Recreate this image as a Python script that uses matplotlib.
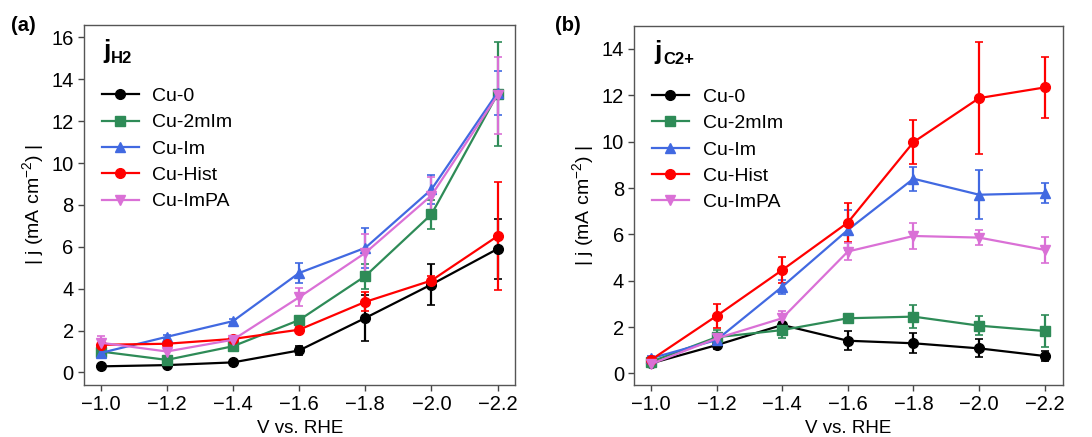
import matplotlib.pyplot as plt

plt.rcParams['font.family'] = ['Liberation Sans', 'DejaVu Sans']
plt.rcParams['mathtext.fontset'] = 'custom'
plt.rcParams['mathtext.rm'] = 'Liberation Sans'

# potentials (V vs. RHE)
potential = [-1.0, -1.2, -1.4, -1.6, -1.8, -2.0, -2.2]
labels = ['Cu-0', 'Cu-2mIm', 'Cu-Im', 'Cu-Hist', 'Cu-ImPA']

# j_H2 (mA cm-2)
h2_cu0 = [0.29, 0.35, 0.48, 1.05, 2.60, 4.20, 5.90]
h2_cu0_err = [0.08, 0.08, 0.08, 0.20, 1.10, 1.00, 1.43]
h2_2mim = [1.00, 0.60, 1.25, 2.50, 4.60, 7.55, 13.30]
h2_2mim_err = [0.15, 0.15, 0.15, 0.20, 0.60, 0.70, 2.50]
h2_im = [0.93, 1.70, 2.45, 4.75, 5.95, 8.74, 13.37]
h2_im_err = [0.10, 0.10, 0.10, 0.50, 0.95, 0.70, 1.05]
h2_hist = [1.32, 1.37, 1.60, 2.04, 3.37, 4.39, 6.51]
h2_hist_err = [0.10, 0.10, 0.10, 0.15, 0.45, 0.20, 2.57]
h2_impa = [1.42, 1.00, 1.56, 3.59, 5.71, 8.45, 13.24]
h2_impa_err = [0.30, 0.20, 0.10, 0.42, 0.90, 0.90, 1.83]

# j_C2+ (mA cm-2)
c2_cu0 = [0.43, 1.22, 2.09, 1.41, 1.30, 1.08, 0.75]
c2_cu0_err = [0.15, 0.15, 0.10, 0.42, 0.43, 0.39, 0.20]
c2_2mim = [0.50, 1.56, 1.87, 2.38, 2.45, 2.06, 1.83]
c2_2mim_err = [0.10, 0.30, 0.35, 0.10, 0.50, 0.40, 0.69]
c2_im = [0.65, 1.44, 3.74, 6.19, 8.40, 7.71, 7.78]
c2_im_err = [0.10, 0.15, 0.30, 0.85, 0.52, 1.05, 0.43]
c2_hist = [0.58, 2.48, 4.46, 6.51, 9.98, 11.88, 12.34]
c2_hist_err = [0.10, 0.52, 0.58, 0.86, 0.94, 2.42, 1.33]
c2_impa = [0.40, 1.51, 2.38, 5.26, 5.93, 5.86, 5.33]
c2_impa_err = [0.10, 0.15, 0.33, 0.35, 0.55, 0.33, 0.55]

colors = ['black', 'seagreen', 'royalblue', 'red', 'orchid']
markers = ['o', 's', '^', 'o', 'v']

h2_data = [(h2_cu0, h2_cu0_err), (h2_2mim, h2_2mim_err), (h2_im, h2_im_err),
           (h2_hist, h2_hist_err), (h2_impa, h2_impa_err)]
c2_data = [(c2_cu0, c2_cu0_err), (c2_2mim, c2_2mim_err), (c2_im, c2_im_err),
           (c2_hist, c2_hist_err), (c2_impa, c2_impa_err)]

fig = plt.figure(figsize=(10.92, 4.37), dpi=100)
ax1 = fig.add_axes([0.077, 0.119, 0.395, 0.824])
ax2 = fig.add_axes([0.581, 0.119, 0.392, 0.822])


def draw_panel(ax, data, sub, ylim, yticks, jx, subx):
    lines = []
    for (y, err), c, m in zip(data, colors, markers):
        cont = ax.errorbar(potential, y, yerr=err, color=c, marker=m,
                           markersize=7, linewidth=1.6, capsize=3,
                           elinewidth=1.6, capthick=1.2)
        lines.append(cont[0])
    ax.set_xlim(-0.95, -2.254)
    ax.set_ylim(*ylim)
    ax.set_xticks(potential)
    ax.set_xticklabels([f'\u2212{abs(v):.1f}' for v in potential])
    ax.set_yticks(yticks)
    ax.tick_params(labelsize=14.5, length=4, width=1, color='#444444')
    for sp in ax.spines.values():
        sp.set_color('#555555')
        sp.set_linewidth(1.0)
    ax.set_xlabel('V vs. RHE', fontsize=13.5, labelpad=4)
    ax.set_ylabel('| j (mA cm$^{-2}$) |', fontsize=14, labelpad=3)
    # big "j" with a bold subscript
    ax.text(jx, 0.908, 'j', transform=ax.transAxes, fontsize=19,
            fontweight='bold', va='baseline', ha='left')
    ax.text(subx, 0.895, sub, transform=ax.transAxes, fontsize=12,
            fontweight='bold', va='baseline', ha='left')
    ax.legend(lines, labels, loc='upper left', bbox_to_anchor=(0.0, 0.875),
              frameon=False, fontsize=14, handlelength=1.9,
              labelspacing=0.45, handletextpad=0.7)


draw_panel(ax1, h2_data, 'H2', (-0.6, 16.6), range(0, 17, 2), 0.044, 0.063)
draw_panel(ax2, c2_data, 'C2+', (-0.5, 15.0), range(0, 15, 2), 0.046, 0.067)

fig.text(0.010, 0.93, '(a)', fontsize=14.5, fontweight='bold')
fig.text(0.508, 0.93, '(b)', fontsize=14.5, fontweight='bold')

fig.savefig('out.png', dpi=100)
